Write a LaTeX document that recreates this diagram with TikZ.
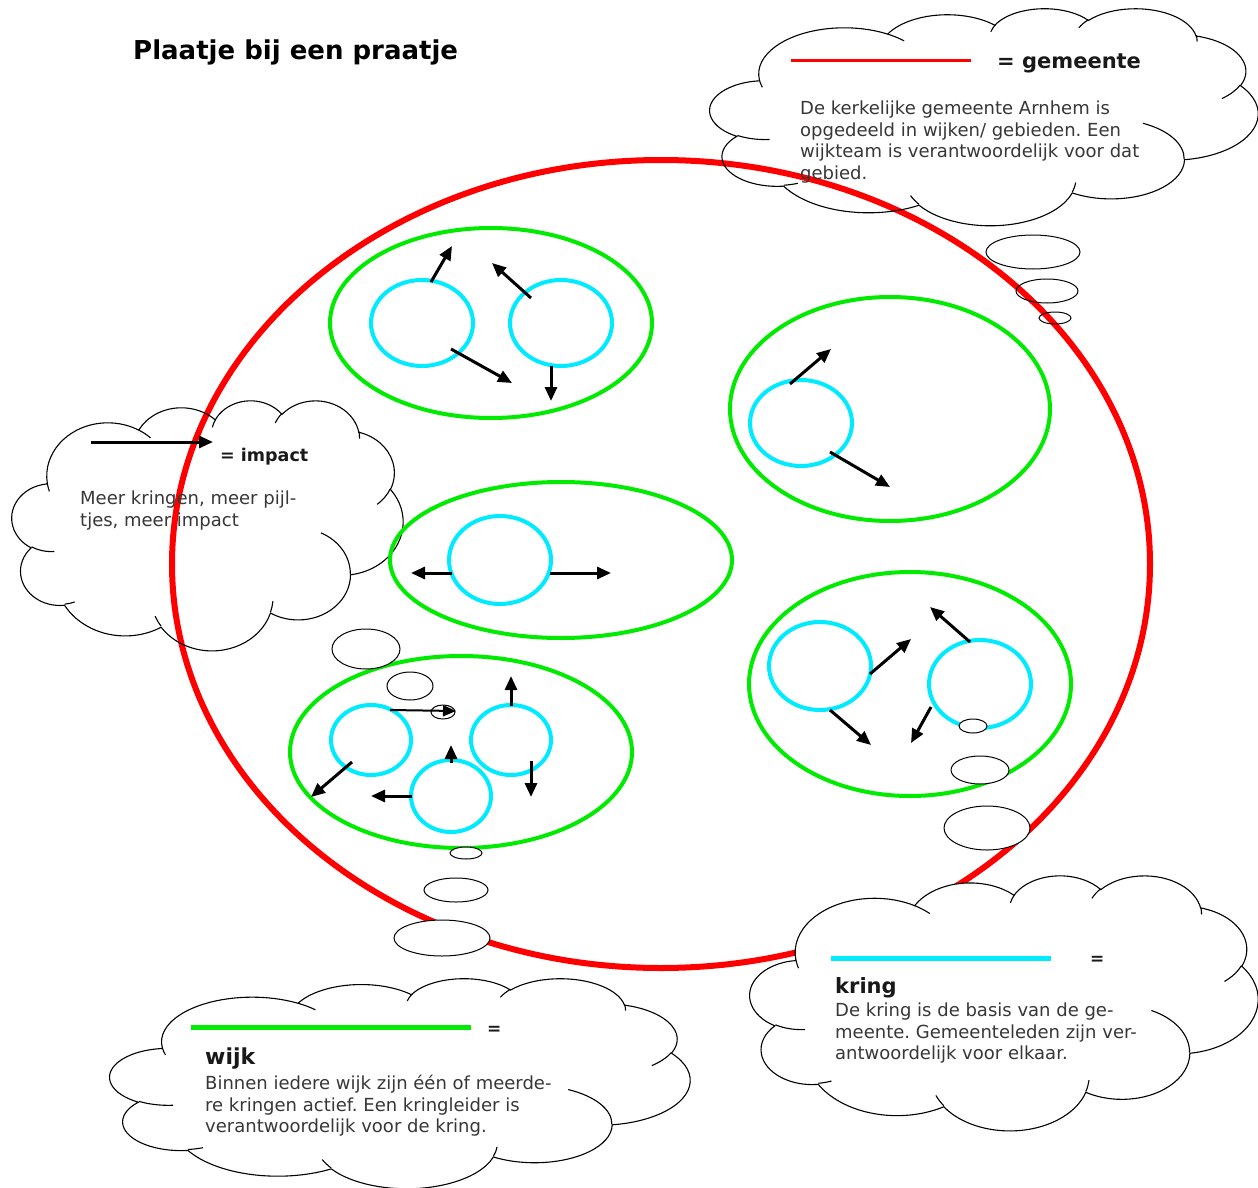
\documentclass[tikz,border=0pt]{standalone}
\usepackage{fontspec}
\setmainfont{DejaVu Sans}
\usetikzlibrary{shapes.geometric,arrows.meta}
\frenchspacing
\definecolor{gred}{RGB}{255,0,0}
\definecolor{ggreen}{RGB}{0,235,0}
\definecolor{gcyan}{RGB}{0,235,255}
\definecolor{bodytxt}{RGB}{55,55,55}
% arc in the manner of DrawingML arcTo (visual angles converted to parametric)
\newcommand\ooarc[4]{arc[x radius=#1, y radius=#2,
  start angle={atan2((#1)*sin(#3),(#2)*cos(#3))},
  delta angle={mod(atan2((#1)*sin((#3)+(#4)),(#2)*cos((#3)+(#4)))-atan2((#1)*sin(#3),(#2)*cos(#3))+720,360)}]}
\newcommand\cloudouter{(39.00,143.70)
  \ooarc{67.53}{91.90}{-190.4875}{123.7805}
  \ooarc{53.33}{72.67}{-144.1024}{89.9452}
  \ooarc{43.65}{59.45}{-145.8079}{99.7230}
  \ooarc{48.57}{65.95}{-130.9861}{117.2417}
  \ooarc{53.33}{72.73}{-78.7089}{109.0269}
  \ooarc{67.75}{92.20}{-46.2673}{130.2690}
  \ooarc{57.85}{78.67}{0.6250}{114.0333}
  \ooarc{67.52}{92.15}{22.4516}{115.1726}
  \ooarc{77.20}{105.43}{66.2426}{75.7110}
  \ooarc{43.60}{59.18}{-274.9421}{146.7356}
  \ooarc{43.45}{59.45}{-246.8285}{152.5189} -- cycle}
\newcommand\cloudinner{(46.93,261.77) \ooarc{43.45}{59.45}{86.742}{26.430}
  (69.28,348.99) \ooarc{43.60}{59.18}{73.610}{11.447}
  (164.78,390.90) \ooarc{67.52}{92.15}{137.624}{14.081}
  (288.27,347.51) \ooarc{67.52}{92.15}{6.453}{15.998}
  (341.29,229.54) \ooarc{57.85}{78.67}{-70.292}{70.917}
  (417.98,153.54) \ooarc{53.33}{72.73}{30.318}{27.752}
  (383.24,54.26) \ooarc{48.57}{65.95}{-13.744}{14.859}
  (290.78,39.52) \ooarc{48.57}{65.95}{-149.181}{18.195}
  (221.41,47.20) \ooarc{43.65}{59.45}{-163.494}{17.686}
  (140.00,51.92) \ooarc{67.53}{91.90}{-66.707}{12.319}
  (41.27,157.89) \ooarc{67.53}{91.90}{157.654}{11.858}}
\tikzset{
  gemeentering/.style={ellipse, draw=gred, line width=6pt, inner sep=0pt},
  wijkring/.style={ellipse, draw=ggreen, line width=4pt, inner sep=0pt},
  kringring/.style={ellipse, draw=gcyan, line width=4pt, inner sep=0pt, minimum width=102pt, minimum height=86pt},
  smallkring/.style={ellipse, draw=gcyan, line width=4pt, inner sep=0pt, minimum width=80pt, minimum height=70pt},
  imp/.style={line width=3pt, -{Triangle[length=14pt,width=12pt]}},
  impthin/.style={line width=2pt, -{Triangle[length=13pt,width=11pt]}},
  bubble/.style={ellipse, draw=black, line width=1pt, inner sep=0pt},
  wolkline/.style={draw=black, line width=1.1pt},
  bodytext/.style={anchor=north west, inner sep=0pt, align=left, text=bodytxt, font=\fontsize{18pt}{21.5pt}\selectfont},
  headtext/.style={anchor=base west, inner sep=0pt, text=black!90, font=\bfseries\fontsize{21pt}{24pt}\selectfont},
}
\begin{document}
\begin{tikzpicture}[x=1pt,y=-1pt]
\useasboundingbox (0,0) rectangle (1258,1188);
\fill[white] (0,0) rectangle (1258,1188);

% title
\node[anchor=base west, inner sep=0pt, font=\bfseries\fontsize{26pt}{28pt}\selectfont] (title) at (133,60) {Plaatje bij een praatje};

% gemeente
\node[gemeentering, minimum width=978pt, minimum height=808pt] (gem) at (661,564) {};

% clouds without fill
\begin{scope}[shift={(710,8)}, xscale=548/432, yscale=217/432]
  \draw[wolkline] \cloudouter;
  \draw[wolkline] \cloudinner;
\end{scope}
\begin{scope}[shift={(12,400)}, xscale=391/432, yscale=250/432]
  \draw[wolkline] \cloudouter;
  \draw[wolkline] \cloudinner;
\end{scope}

% wijken
\node[wijkring, minimum width=322pt, minimum height=190pt] (wA) at (491,323) {};
\node[wijkring, minimum width=320pt, minimum height=224pt] (wB) at (890,409) {};
\node[wijkring, minimum width=342pt, minimum height=156pt] (wC) at (561,560) {};
\node[wijkring, minimum width=322pt, minimum height=224pt] (wD) at (910,684) {};
\node[wijkring, minimum width=342pt, minimum height=192pt] (wE) at (461,752) {};

% kringen
\node[kringring] (A1) at (422,323) {};
\node[kringring] (A2) at (561,323) {};
\node[kringring] (B1) at (801,423) {};
\node[kringring, minimum height=88pt] (C1) at (500,560) {};
\node[kringring, minimum height=88pt] (D1) at (820,666) {};
\node[kringring, minimum height=88pt] (D2) at (980,684) {};
\node[smallkring] (E1) at (371,740) {};
\node[smallkring] (E2) at (511,740) {};
\node[smallkring, minimum height=72pt] (E3) at (451,796) {};

% bubbles
\node[bubble, minimum width=94pt, minimum height=34pt] (bg1) at (1033,252) {};
\node[bubble, minimum width=62pt, minimum height=24pt] (bg2) at (1047,291) {};
\node[bubble, minimum width=32pt, minimum height=12pt] (bg3) at (1055,318) {};
\node[bubble, fill=white, minimum width=68pt, minimum height=40pt] (bi1) at (366,649) {};
\node[bubble, fill=white, minimum width=46pt, minimum height=28pt] (bi2) at (410,686) {};
\node[bubble, minimum width=24pt, minimum height=14pt] (bi3) at (443,712) {};
\node[bubble, fill=white, minimum width=28pt, minimum height=14pt] (bk1) at (973,726) {};
\node[bubble, fill=white, minimum width=58pt, minimum height=28pt] (bk2) at (980,770) {};
\node[bubble, fill=white, minimum width=86pt, minimum height=44pt] (bk3) at (987,828) {};
\node[bubble, fill=white, minimum width=32pt, minimum height=12pt] (bw1) at (466,853) {};
\node[bubble, fill=white, minimum width=64pt, minimum height=24pt] (bw2) at (456,890) {};
\node[bubble, fill=white, minimum width=96pt, minimum height=36pt] (bw3) at (442,938) {};

% arrow ends
\coordinate (ta1) at (452,246);
\coordinate (ta2) at (492,263);
\coordinate (ta3) at (512,383);
\coordinate (ta4) at (551,401);
\coordinate (tb1) at (831,349);
\coordinate (tb2) at (890,487);
\coordinate (tc1) at (411,573);
\coordinate (tc2) at (611,573);
\coordinate (td1) at (911,639);
\coordinate (td2) at (930,607);
\coordinate (td3) at (871,745);
\coordinate (td4) at (911,743);
\coordinate (te1) at (456,711);
\coordinate (te2) at (511,676);
\coordinate (te3) at (531,797);
\coordinate (te4) at (451,745);
\coordinate (te5) at (371,796);
\coordinate (te6) at (311,797);
\coordinate (legs) at (91,442);
\coordinate (lege) at (213,442);

\draw[imp] ([shift={(9,-41)}]A1.center) -- (ta1);
\draw[imp] ([shift={(-30,-25)}]A2.center) -- (ta2);
\draw[imp] ([shift={(29,26)}]A1.center) -- (ta3);
\draw[imp] ([shift={(-10,43)}]A2.center) -- (ta4);
\draw[imp] ([shift={(-11,-39)}]B1.center) -- (tb1);
\draw[imp] ([shift={(29,29)}]B1.center) -- (tb2);
\draw[imp] ([shift={(-48,13)}]C1.center) -- (tc1);
\draw[imp] ([shift={(50,13)}]C1.center) -- (tc2);
\draw[imp] ([shift={(50,8)}]D1.center) -- (td1);
\draw[imp] ([shift={(-10,-42)}]D2.center) -- (td2);
\draw[imp] ([shift={(10,44)}]D1.center) -- (td3);
\draw[imp] ([shift={(-49,23)}]D2.center) -- (td4);
\draw[impthin] ([shift={(19,-30)}]E1.center) -- (te1);
\draw[imp] ([shift={(0,-34)}]E2.center) -- (te2);
\draw[imp] ([shift={(20,21)}]E2.center) -- (te3);
\draw[imp] ([shift={(0,-33)}]E3.center) -- (te4);
\draw[imp] ([shift={(-39,0)}]E3.center) -- (te5);
\draw[imp] ([shift={(-19,22)}]E1.center) -- (te6);
\draw[imp] (legs) -- (lege);

% filled clouds
\begin{scope}[shift={(750,875)}, xscale=508/432, yscale=255/432]
  \draw[wolkline, fill=white] \cloudouter;
  \draw[wolkline] \cloudinner;
\end{scope}
\begin{scope}[shift={(110,978)}, xscale=580/432, yscale=210/432]
  \draw[wolkline, fill=white] \cloudouter;
  \draw[wolkline] \cloudinner;
\end{scope}

% legend lines
\coordinate (lr1) at (791,61); \coordinate (lr2) at (971,61);
\coordinate (lc1) at (831,958); \coordinate (lc2) at (1051,958);
\coordinate (lg1) at (191,1027); \coordinate (lg2) at (471,1027);
\draw[gred, line width=3pt] (lr1) -- (lr2);
\draw[gcyan, line width=5pt] (lc1) -- (lc2);
\draw[ggreen, line width=5pt] (lg1) -- (lg2);

% texts
\node[headtext] (tgem) at (997,69) {= gemeente};
\node[bodytext] (bgem) at (800,101) {De kerkelijke gemeente Arnhem is\\opgedeeld in wijken/ gebieden. Een\\wijkteam is verantwoordelijk voor dat\\gebied.};
\node[headtext, font=\bfseries\fontsize{17.5pt}{20pt}\selectfont] (timp) at (220,461) {= impact};
\node[bodytext] (bimp) at (80,491) {Meer kringen, meer pijl-\\tjes, meer impact};
\node[headtext, font=\bfseries\fontsize{17pt}{20pt}\selectfont] (eqk) at (1090,964) {=};
\node[headtext] (tkring) at (835,993) {kring};
\node[bodytext] (bkring) at (835,1003) {De kring is de basis van de ge-\\meente. Gemeenteleden zijn ver-\\antwoordelijk voor elkaar.};
\node[headtext, font=\bfseries\fontsize{17pt}{20pt}\selectfont] (eqw) at (487,1034) {=};
\node[headtext, font=\bfseries\fontsize{22pt}{24pt}\selectfont] (twijk) at (205,1064) {wijk};
\node[bodytext] (bwijk) at (205,1075) {Binnen iedere wijk zijn één of meerde-\\re kringen actief. Een kringleider is\\verantwoordelijk voor de kring.};
\end{tikzpicture}
\end{document}
